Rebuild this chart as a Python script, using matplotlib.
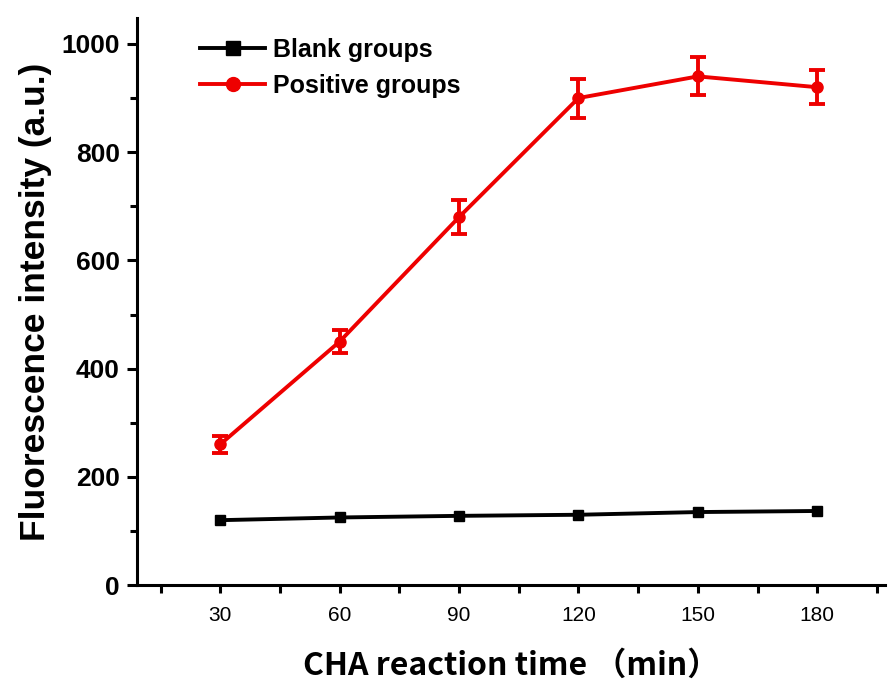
import matplotlib.pyplot as plt
from matplotlib.ticker import MultipleLocator

# Data
times = [30, 60, 90, 120, 150, 180]
blank = [120, 125, 128, 130, 135, 137]
positive = [260, 450, 680, 900, 940, 920]
positive_err = [15, 22, 32, 36, 35, 31]

red = '#ee0000'

fig = plt.figure(figsize=(8.93, 6.9), dpi=100)
ax = fig.add_axes([0.153, 0.152, 0.838, 0.822])

l1, = ax.plot(times, blank, color='black', marker='s', markersize=7.5, linewidth=2.8,
              label='Blank groups')
ax.errorbar(times, positive, yerr=positive_err, fmt='none', ecolor=red,
            elinewidth=2.8, capsize=5.5, capthick=2.8)
l2, = ax.plot(times, positive, color=red, marker='o', markersize=8, linewidth=2.8,
              label='Positive groups')

ax.set_xlim(9, 197)
ax.set_ylim(0, 1048)
ax.xaxis.set_major_locator(MultipleLocator(30))
ax.xaxis.set_minor_locator(MultipleLocator(15))
ax.yaxis.set_major_locator(MultipleLocator(200))
ax.yaxis.set_minor_locator(MultipleLocator(100))

for s in ['top', 'right']:
    ax.spines[s].set_visible(False)
for s in ['left', 'bottom']:
    ax.spines[s].set_linewidth(2.2)

ax.tick_params(which='major', direction='out', length=7, width=2.2)
ax.tick_params(which='minor', direction='out', length=5, width=2.2)
ax.tick_params(axis='x', which='both', length=6, pad=9)
ax.tick_params(axis='y', which='major', pad=5)

for lab in ax.get_xticklabels():
    lab.set_family(['Liberation Sans', 'DejaVu Sans'])
    lab.set_fontsize(15)
for lab in ax.get_yticklabels():
    lab.set_family(['Liberation Sans', 'DejaVu Sans'])
    lab.set_fontsize(19)
    lab.set_fontweight('bold')

ax.set_ylabel('Fluorescence intensity (a.u.)', fontsize=25.5, fontweight='bold',
              family=['Liberation Sans', 'DejaVu Sans'], labelpad=7)
ax.set_xlabel('CHA reaction time （min）', fontsize=23, fontweight='bold',
              family=['Noto Sans CJK SC', 'DejaVu Sans'], labelpad=18)

ax.legend(handles=[l1, l2], loc='upper left', bbox_to_anchor=(0.055, 1.005),
          frameon=False, handlelength=2.6, handletextpad=0.3, labelspacing=0.5,
          markerscale=1.25,
          prop={'family': ['Liberation Sans', 'DejaVu Sans'], 'weight': 'bold', 'size': 18})

fig.savefig('out.png', dpi=100)
